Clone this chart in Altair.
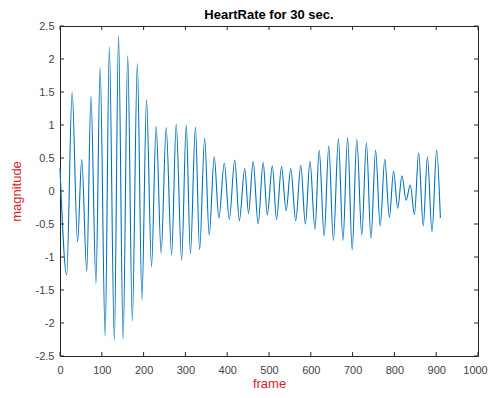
import altair as alt
import pandas as pd

# extrema (frame, magnitude), alternating peak / trough
frames = [0, 16, 29, 42, 52, 64, 74, 86, 96, 108, 118, 130, 140, 151, 162, 173, 185, 196,
          207, 219, 230, 242, 254, 267, 278, 291, 302, 312, 324, 334, 346, 357, 369, 380,
          393, 405, 418, 429, 442, 451, 462, 474, 486, 496, 508, 518, 530, 541, 552, 564,
          576, 587, 598, 610, 620, 632, 643, 654, 666, 677, 688, 699, 710, 722, 733, 744,
          755, 766, 777, 788, 798, 808, 818, 828, 838, 848, 858, 869, 879, 890, 901, 910]
magnitude = [0.35, -1.27, 1.50, -0.77, 0.48, -1.22, 1.43, -1.40, 1.87, -2.20, 2.18, -2.27,
             2.35, -2.25, 2.05, -1.97, 1.93, -1.65, 1.38, -1.15, 0.98, -0.94, 0.96, -0.97,
             1.01, -1.05, 1.00, -0.95, 0.97, -0.89, 0.80, -0.67, 0.52, -0.41, 0.42, -0.43,
             0.47, -0.45, 0.34, -0.34, 0.45, -0.50, 0.43, -0.36, 0.38, -0.43, 0.37, -0.30,
             0.34, -0.45, 0.39, -0.50, 0.45, -0.58, 0.62, -0.68, 0.68, -0.75, 0.79, -0.75,
             0.81, -0.89, 0.78, -0.67, 0.73, -0.72, 0.62, -0.53, 0.48, -0.40, 0.30, -0.26,
             0.23, -0.14, 0.09, -0.36, 0.58, -0.53, 0.52, -0.62, 0.62, -0.41]

x_ticks = [0, 100, 200, 300, 400, 500, 600, 700, 800, 900, 1000]
y_ticks = [-2.5, -2, -1.5, -1, -0.5, 0, 0.5, 1, 1.5, 2, 2.5]

df = pd.DataFrame({"frame": frames, "magnitude": magnitude})
xt = pd.DataFrame({"frame": x_ticks})
yt = pd.DataFrame({"magnitude": y_ticks})

W, H = 418, 330
TK = 4
FONT = "Liberation Sans"
RED = "#d9232a"
LBL = "#444444"
TICKC = "#262626"

xs = alt.Scale(domain=[0, 1000], nice=False, zero=False)
ys = alt.Scale(domain=[-2.5, 2.5], nice=False, zero=False)

x_axis = alt.Axis(values=x_ticks, title="frame", titleColor=RED, titleFont=FONT,
                  titleFontSize=13, titleFontWeight="normal", titlePadding=2,
                  labelFont=FONT, labelFontSize=11, labelColor=LBL, labelPadding=8,
                  labelOffset={"condition": {"test": "datum.value == 1000", "value": -3}, "value": 0},
                  ticks=False, domain=False, grid=False, labelFlush=False,
                  labelExpr="datum.value + ''")
y_axis = alt.Axis(values=y_ticks, title="magnitude", titleColor=RED, titleFont=FONT,
                  titleFontSize=13, titleFontWeight="normal", titlePadding=12,
                  labelFont=FONT, labelFontSize=11, labelColor=LBL, labelPadding=6,
                  ticks=False, domain=False, grid=False, labelFlush=False,
                  labelExpr="datum.value + ''")

main = alt.Chart(df).mark_line(color="#0072BD", strokeWidth=1.1, interpolate="monotone").encode(
    x=alt.X("frame:Q", scale=xs, axis=x_axis),
    y=alt.Y("magnitude:Q", scale=ys, axis=y_axis),
)

# inward tick marks on all four sides (MATLAB style)
xb = alt.Chart(xt).mark_rule(color=TICKC, strokeWidth=1).encode(
    x=alt.X("frame:Q", scale=xs, axis=x_axis), y=alt.value(H), y2=alt.value(H - TK))
xtop = alt.Chart(xt).mark_rule(color=TICKC, strokeWidth=1).encode(
    x=alt.X("frame:Q", scale=xs, axis=x_axis), y=alt.value(0), y2=alt.value(TK))
yl = alt.Chart(yt).mark_rule(color=TICKC, strokeWidth=1).encode(
    y=alt.Y("magnitude:Q", scale=ys, axis=y_axis), x=alt.value(0), x2=alt.value(TK))
yr = alt.Chart(yt).mark_rule(color=TICKC, strokeWidth=1).encode(
    y=alt.Y("magnitude:Q", scale=ys, axis=y_axis), x=alt.value(W), x2=alt.value(W - TK))

chart = alt.layer(main, xb, xtop, yl, yr).properties(
    width=W, height=H,
    title=alt.TitleParams("HeartRate for 30 sec.", font=FONT, fontSize=13, fontWeight="bold",
                          color="#000000", anchor="middle", offset=-2),
    autosize=alt.AutoSizeParams(type="none"),
    padding={"left": 52, "top": 18, "right": 10, "bottom": 40},
    background="white",
).configure_view(stroke=TICKC, strokeWidth=1)

chart.save("out.html", embed_options={"renderer": "svg", "actions": False})
